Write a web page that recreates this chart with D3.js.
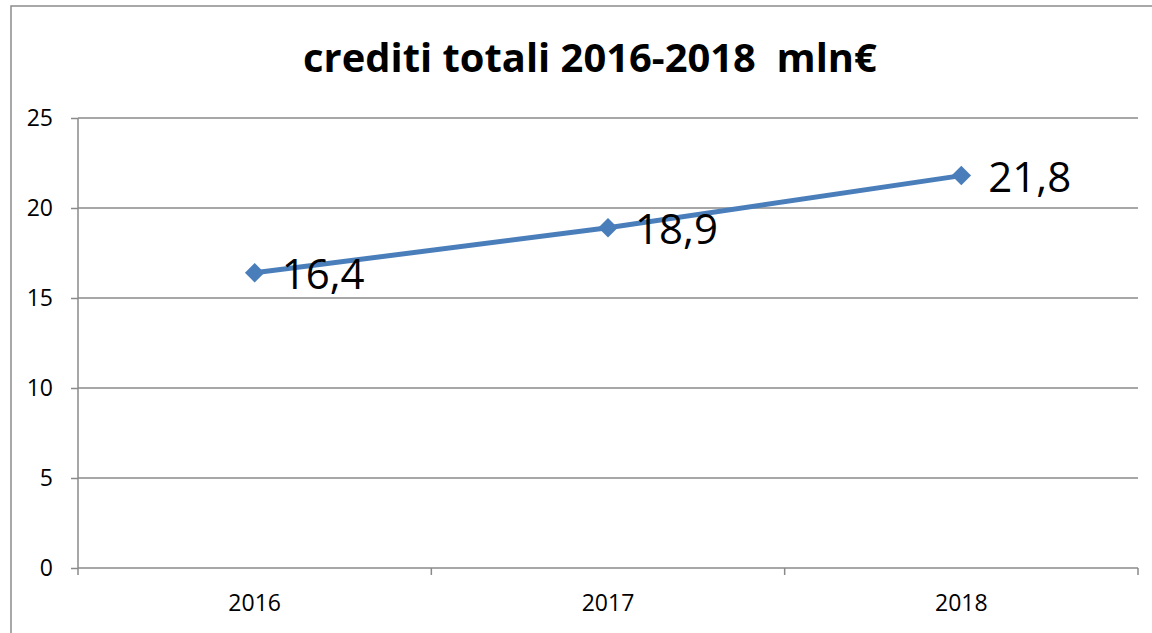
<!DOCTYPE html>
<html>
<head>
<meta charset="utf-8">
<script src="https://cdn.jsdelivr.net/npm/d3@7"></script>
<style>
    body { margin: 0; background: #ffffff; }
    text { font-family: "Open Sans", "Noto Sans", sans-serif; fill: #000000; }
</style>
</head>
<body>
<div id="chart"></div>
<script>
// Chart data.
var years = ["2016", "2017", "2018"];
var crediti = [16.4, 18.9, 21.8];
var valueLabels = ["16,4", "18,9", "21,8"];
var yTicks = [0, 5, 10, 15, 20, 25];
var chartTitle = "crediti totali 2016-2018  mln€";

var svgWidth = 1152;
var svgHeight = 633;

var margin = {
    top: 118,
    bottom: 65,
    right: 14,
    left: 78
};

var height = svgHeight - margin.top - margin.bottom;
var width = svgWidth - margin.left - margin.right;

var svg = d3.select("#chart")
    .append("svg")
    .attr("width", svgWidth)
    .attr("height", svgHeight);

// Outer chart border (right and bottom sides fall outside the picture).
svg.append("rect")
    .attr("x", 11)
    .attr("y", 6)
    .attr("width", 1160)
    .attr("height", 660)
    .attr("fill", "none")
    .attr("stroke", "#8c8c8c")
    .attr("stroke-width", 1.5);

var chartGroup = svg.append("g")
    .attr("transform", `translate(${margin.left}, ${margin.top})`);

// Scales.
var xBandScale = d3.scaleBand()
    .domain(years)
    .range([0, width]);

var yLinearScale = d3.scaleLinear()
    .domain([0, 25])
    .range([height, 0]);

// Horizontal gridlines.
chartGroup.append("g")
    .selectAll("line")
    .data(yTicks.filter(d => d > 0))
    .enter()
    .append("line")
    .attr("x1", 0)
    .attr("x2", width)
    .attr("y1", d => yLinearScale(d))
    .attr("y2", d => yLinearScale(d))
    .attr("stroke", "#8a8a8a")
    .attr("stroke-width", 1.5);

// Left axis.
var leftAxis = d3.axisLeft(yLinearScale)
    .tickValues(yTicks)
    .tickSize(7)
    .tickPadding(18);

var yAxis = chartGroup.append("g")
    .call(leftAxis);

// Bottom axis: ticks sit between the categories.
var bottomAxis = d3.axisBottom(xBandScale)
    .tickSize(0)
    .tickPadding(27);

var xAxis = chartGroup.append("g")
    .attr("transform", `translate(0, ${height})`)
    .call(bottomAxis);

xAxis.selectAll(".sep")
    .data(d3.range(years.length + 1))
    .enter()
    .append("line")
    .attr("class", "sep")
    .attr("x1", i => i * xBandScale.step())
    .attr("x2", i => i * xBandScale.step())
    .attr("y1", 0)
    .attr("y2", 7);

[yAxis, xAxis].forEach(function(ax) {
    ax.select(".domain").attr("stroke", "#8a8a8a").attr("stroke-width", 1.5);
    ax.selectAll("line").attr("stroke", "#8a8a8a").attr("stroke-width", 1.5);
    ax.selectAll("text")
        .attr("font-family", "Open Sans, sans-serif")
        .style("font-size", "23px")
        .attr("fill", "#000");
});

// Remove the outer tick caps d3 adds to the domain path.
yAxis.select(".domain").attr("d", `M0,0V${height}`);
xAxis.select(".domain").attr("d", `M0,0H${width}`);

// Line.
var line = d3.line()
    .x((d, i) => xBandScale(years[i]) + xBandScale.bandwidth() / 2)
    .y(d => yLinearScale(d));

chartGroup.append("path")
    .datum(crediti)
    .attr("d", line)
    .attr("fill", "none")
    .attr("stroke", "#4a7ebb")
    .attr("stroke-width", 5)
    .attr("stroke-linecap", "round");

// Diamond markers.
chartGroup.selectAll(".marker")
    .data(crediti)
    .enter()
    .append("path")
    .attr("class", "marker")
    .attr("d", d3.symbol(d3.symbolSquare, 190))
    .attr("transform", (d, i) => `translate(${xBandScale(years[i]) + xBandScale.bandwidth() / 2}, ${yLinearScale(d)}) rotate(45)`)
    .attr("fill", "#4a7ebb");

// Data labels to the right of each point.
chartGroup.selectAll(".valueLabel")
    .data(crediti)
    .enter()
    .append("text")
    .attr("class", "valueLabel")
    .attr("x", (d, i) => xBandScale(years[i]) + xBandScale.bandwidth() / 2 + 27)
    .attr("y", d => yLinearScale(d) + 16)
    .style("font-size", "42px")
    .text((d, i) => valueLabels[i]);

// Title, fitted to the original width.
var title = svg.append("text")
    .attr("x", 590)
    .attr("y", 72)
    .attr("text-anchor", "middle")
    .style("font-size", "34px")
    .style("font-weight", "bold")
    .style("white-space", "pre")
    .text(chartTitle);

var tw = title.node().getComputedTextLength();
title.style("font-size", (34 * 574 / tw) + "px");
</script>
</body>
</html>
